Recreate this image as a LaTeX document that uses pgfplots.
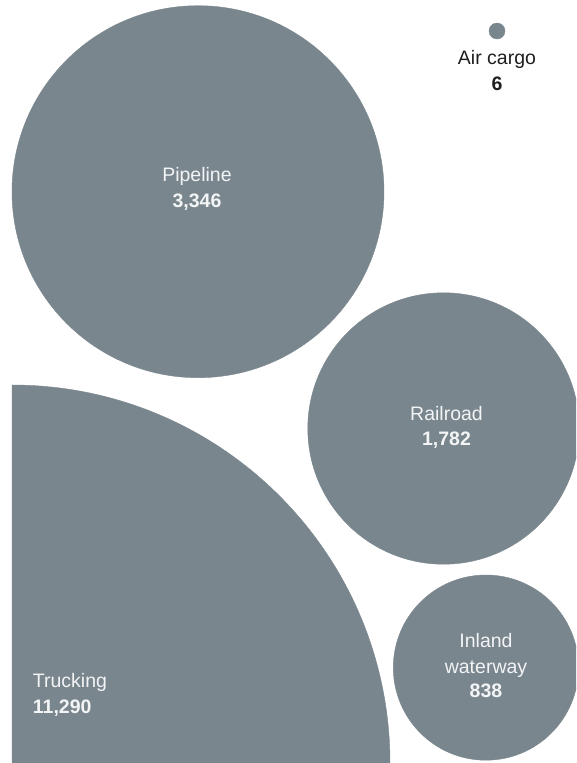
\documentclass[border=0pt]{standalone}
\usepackage{fontspec}
\setmainfont{Liberation Sans}
\usepackage{pgfplots}
\pgfplotsset{compat=1.18}
\definecolor{circ}{RGB}{122,134,141}
\definecolor{lbl}{RGB}{242,244,245}
\definecolor{dark}{RGB}{30,30,30}
\begin{document}
\begin{tikzpicture}
\useasboundingbox (-12pt,0pt) rectangle (564pt,763pt);
\begin{axis}[
  x=1pt, y=1pt, y dir=reverse,
  xmin=12, xmax=576, ymin=0, ymax=763,
  hide axis, clip=true, clip marker paths=true,
  every axis plot post/.append style={only marks, mark=*, color=circ, mark options={draw=none, fill=circ}},
]
% Trucking 11,290 (quarter circle, centre at bottom-left corner)
\addplot[mark size=378pt] coordinates {(12,763)};
% Pipeline 3,346
\addplot[mark size=186pt] coordinates {(198,191.7)};
% Railroad 1,782
\addplot[mark size=135.7pt] coordinates {(443.5,428.5)};
% Inland waterway 838
\addplot[mark size=92.6pt] coordinates {(485.9,667.6)};
% Air cargo 6
\addplot[mark size=8pt] coordinates {(497,31)};

\begin{scope}[every node/.style={font=\fontsize{19.5}{26}\selectfont, inner sep=0pt, anchor=base}]
\node[text=lbl] at (axis cs:197,181.7) {Pipeline};
\node[text=lbl] at (axis cs:197,207.3) {\bfseries 3,346};
\node[text=lbl] at (axis cs:446.5,420.7) {Railroad};
\node[text=lbl] at (axis cs:446.5,445.7) {\bfseries 1,782};
\node[text=lbl] at (axis cs:486,647.3) {Inland};
\node[text=lbl] at (axis cs:486,673) {waterway};
\node[text=lbl] at (axis cs:486,697.3) {\bfseries 838};
\node[text=lbl, anchor=base west] at (axis cs:32.7,687.3) {Trucking};
\node[text=lbl, anchor=base west] at (axis cs:32.7,713.3) {\bfseries 11,290};
\node[text=dark] at (axis cs:497,64) {Air cargo};
\node[text=dark] at (axis cs:497,90) {\bfseries 6};
\end{scope}
\end{axis}
\end{tikzpicture}
\end{document}
